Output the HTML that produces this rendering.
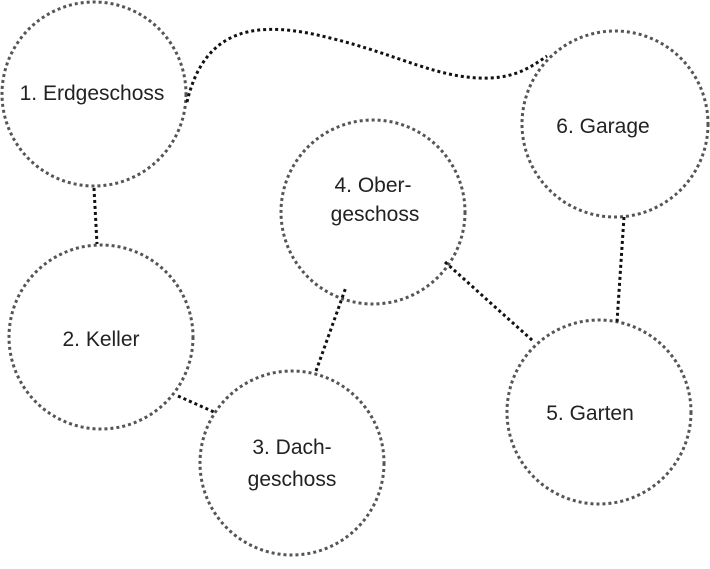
<!DOCTYPE html>
<html><head><style>
body{margin:0;background:#fff;}
text{font-family:"Liberation Sans",sans-serif;font-size:21px;fill:#222;text-anchor:middle;}
</style></head><body>
<svg width="710" height="564" viewBox="0 0 710 564">
<g fill="none" stroke="#555" stroke-width="3" stroke-dasharray="3 3">
<circle cx="94" cy="94" r="92"/>
<circle cx="101" cy="337" r="92"/>
<circle cx="292" cy="463" r="92"/>
<circle cx="373" cy="212" r="92"/>
<circle cx="599" cy="412" r="92"/>
<circle cx="615" cy="124" r="93"/>
</g>
<g fill="none" stroke="#111" stroke-width="3" stroke-dasharray="3 3">
<path d="M187,102 C205,25 260,20 330,38 C400,55 440,80 490,78 C515,77 530,68 547,56"/>
<line x1="94" y1="188" x2="97" y2="244"/>
<line x1="178" y1="396" x2="214" y2="412"/>
<line x1="316" y1="371" x2="346" y2="287"/>
<line x1="445" y1="262" x2="533" y2="341"/>
<line x1="624" y1="217" x2="617" y2="322"/>
</g>
<text x="92" y="100">1. Erdgeschoss</text>
<text x="101" y="346">2. Keller</text>
<text x="292" y="454">3. Dach-</text>
<text x="292" y="486">geschoss</text>
<text x="373" y="192">4. Ober-</text>
<text x="375" y="221">geschoss</text>
<text x="590" y="420">5. Garten</text>
<text x="603" y="133">6. Garage</text>
</svg>
</body></html>
